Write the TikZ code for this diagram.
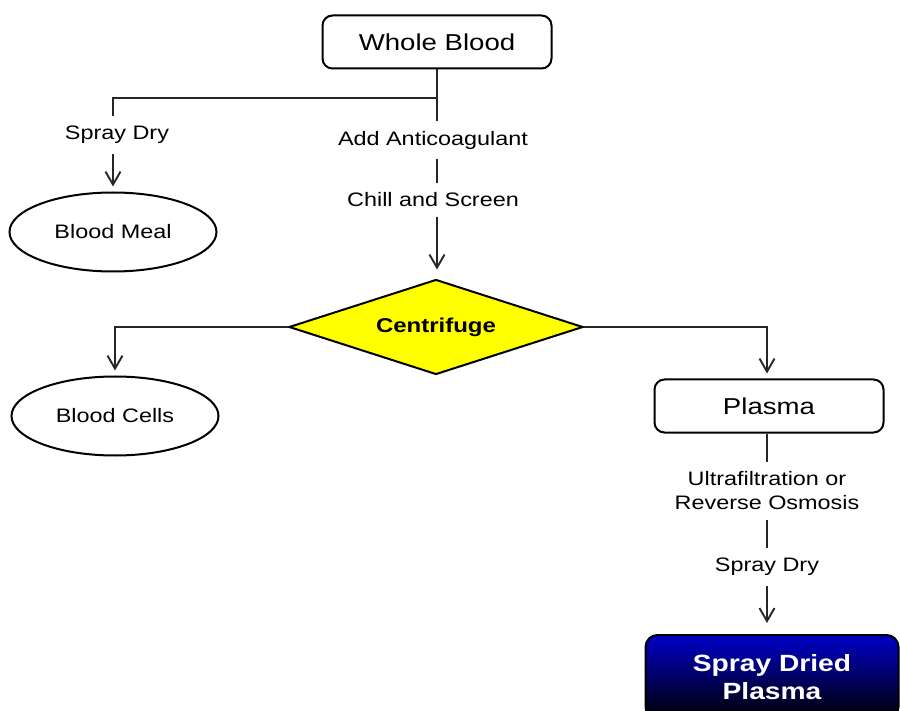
\documentclass[tikz,border=0pt]{standalone}
\usepackage{fontspec}
\setmainfont{Liberation Sans}[FakeStretch=1.2]
\usetikzlibrary{arrows.meta,shapes.geometric}
\definecolor{sdpblue}{RGB}{0,0,200}
\definecolor{centyellow}{RGB}{255,255,0}
\tikzset{
	stepbox/.style={draw, line width=2pt, rounded corners=10pt, minimum width=229pt, minimum height=53pt, font=\fontsize{23}{27}\selectfont},
	product/.style={draw, ellipse, line width=2pt, minimum width=207pt, minimum height=79pt, font=\fontsize{19.5}{23}\selectfont},
	process/.style={align=center, inner sep=10pt, font=\fontsize{19.5}{24}\selectfont},
	flow/.style={line width=1.1pt, color=black!85},
	flowarrow/.style={flow, shorten >=5pt, -{Straight Barb[length=13pt,width=15pt,line width=1.9pt]}},
}

\begin{document}
\begin{tikzpicture}[x=1pt, y=-1pt]
		%%%%% START %%%%%
		\useasboundingbox (0,0) rectangle (900,711);
		\clip (0,0) rectangle (900,711);
		
		\node[stepbox] (whole) at (437,42) {Whole Blood};
		\node[product] (meal) at (113,232) {Blood Meal};
		\node[draw, diamond, aspect=3.1, fill=centyellow, line width=2pt, minimum width=294pt, minimum height=95pt, font=\fontsize{20}{24}\selectfont\bfseries] (centrifuge) at (436,327) {Centrifuge};
		\node[product] (cells) at (115,416) {Blood Cells};
		\node[stepbox] (plasma) at (769,406) {Plasma};
		\node[draw=black, line width=2pt, rounded corners=12pt, top color=sdpblue, bottom color=black, minimum width=253pt, minimum height=84pt, text=white, align=center, font=\fontsize{23.5}{28}\selectfont\bfseries] (dried) at (772,677) {Spray Dried\\Plasma};
		
		% process steps
		\node[process] (spraymeal) at (117,135) {Spray Dry};
		\node[process] (anticoag) at (433,140) {Add Anticoagulant};
		\node[process] (chill) at (433,200) {Chill and Screen};
		\node[process] (filtration) at (767,491) {Ultrafiltration or\\Reverse Osmosis};
		\node[process] (spraydried) at (767,567) {Spray Dry};
		
		\coordinate (split) at (437,98);
		\coordinate (leftturn) at (113,98);
		\coordinate (plasmaout) at (767,0);
		
		\draw[flow] (whole.south) -- (split) -- (leftturn) -- (leftturn |- spraymeal.north);
		\draw[flowarrow] (leftturn |- spraymeal.south) -- (leftturn |- meal.north);
		\draw[flow] (split) -- (split |- anticoag.north);
		\draw[flow] (split |- anticoag.south) -- (split |- chill.north);
		\draw[flowarrow, shorten >=9pt] (split |- chill.south) -- (split |- centrifuge.north);
		
		\draw[flowarrow] (centrifuge.west) -| (cells.north);
		\draw[flowarrow] (centrifuge.east) -| (plasmaout |- plasma.north);
		
		\draw[flow] (plasmaout |- plasma.south) -- (filtration.north);
		\draw[flow] (filtration.south) -- (spraydried.north);
		\draw[flowarrow, shorten >=11pt] (spraydried.south) -- (dried.north -| spraydried.south);
		%%%%% END %%%%%
\end{tikzpicture}
\end{document}
